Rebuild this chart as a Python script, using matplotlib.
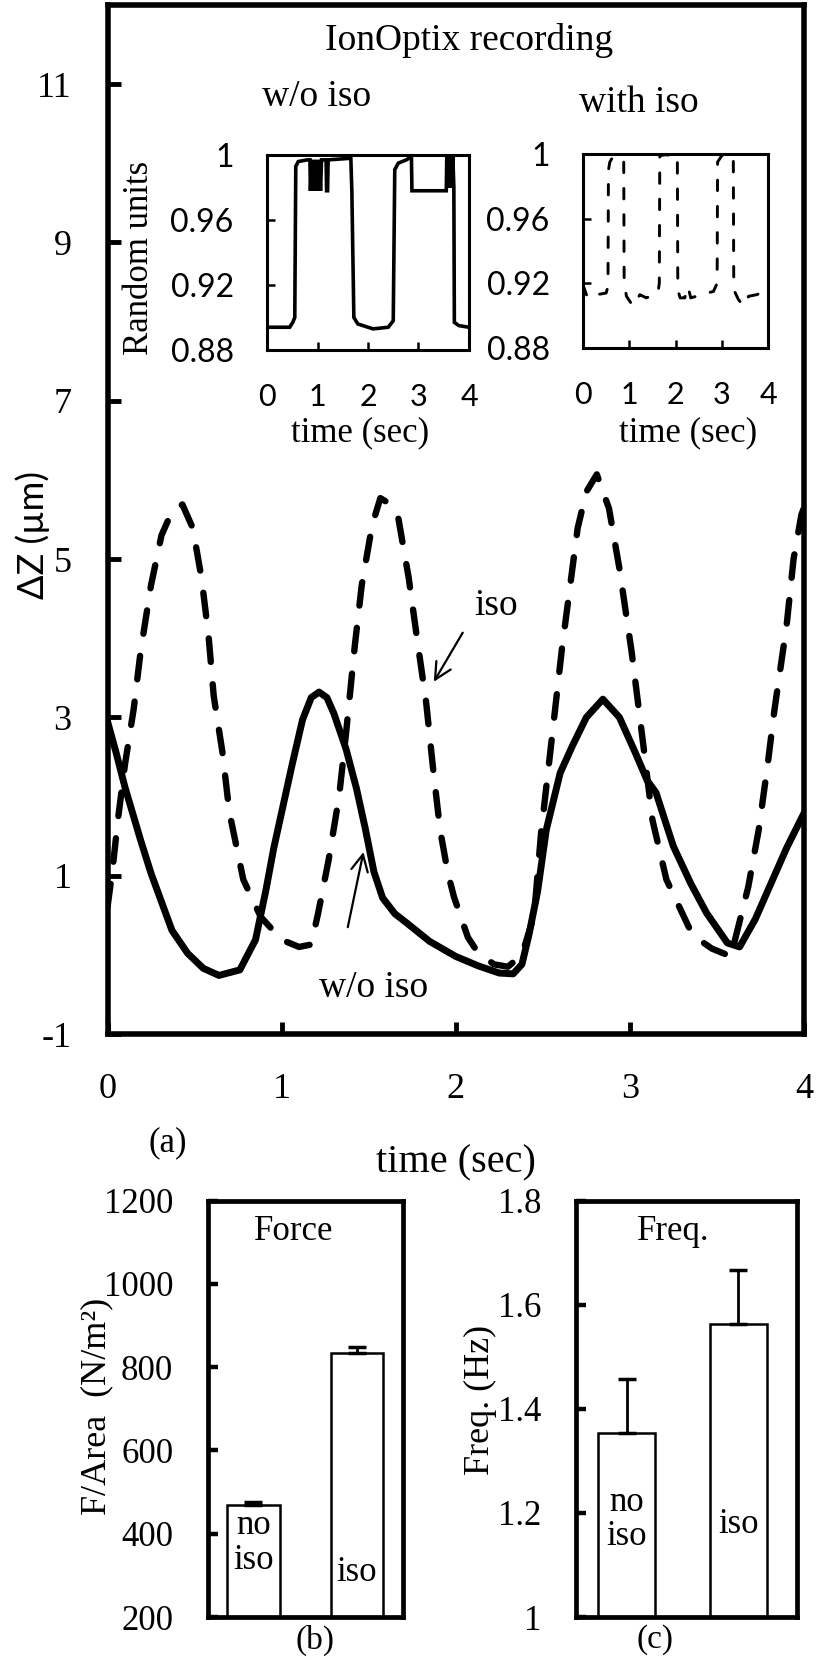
import matplotlib
matplotlib.use('Agg')
import matplotlib.pyplot as plt
import numpy as np

plt.rcParams['font.family'] = ['Liberation Serif', 'DejaVu Serif']
plt.rcParams['axes.unicode_minus'] = False
SANS = ['Lato', 'DejaVu Sans']

W, H = 816, 1660

# ---- (a) cell edge displacement, w/o iso (solid) ----
t_noiso = [0.00, 0.05, 0.10, 0.19, 0.25, 0.37, 0.46, 0.55, 0.64, 0.76, 0.85, 0.91,
           0.955, 1.00, 1.06, 1.12, 1.17, 1.215, 1.26, 1.30, 1.37, 1.43, 1.48, 1.53,
           1.58, 1.65, 1.72, 1.85, 2.00, 2.13, 2.25, 2.33, 2.38, 2.42, 2.47, 2.52, 2.60,
           2.67, 2.75, 2.845, 2.94, 3.03, 3.10, 3.15, 3.25, 3.35, 3.44, 3.56, 3.63,
           3.72, 3.82, 3.90, 4.00]
z_noiso = [2.95, 2.55, 2.12, 1.45, 1.03, 0.31, 0.02, -0.17, -0.26, -0.19, 0.19, 0.82,
           1.35, 1.80, 2.40, 2.97, 3.25, 3.32, 3.25, 3.05, 2.60, 2.10, 1.60, 1.05,
           0.72, 0.52, 0.40, 0.17, -0.02, -0.14, -0.23, -0.24, -0.12, 0.25, 0.80, 1.58, 2.30,
           2.64, 3.00, 3.23, 3.00, 2.56, 2.20, 2.05, 1.37, 0.90, 0.53, 0.15, 0.10,
           0.45, 0.95, 1.35, 1.79]

# ---- (a) with iso (dashed) ----
t_iso = [0.00, 0.03, 0.06, 0.10, 0.15, 0.19, 0.25, 0.31, 0.37, 0.43, 0.49, 0.54,
         0.58, 0.61, 0.66, 0.70, 0.78, 0.88, 1.00, 1.10, 1.17, 1.21, 1.27, 1.33,
         1.37, 1.42, 1.46, 1.52, 1.567, 1.62, 1.67, 1.73, 1.78, 1.83, 1.87, 1.91,
         1.955, 1.99, 2.07, 2.13, 2.22, 2.30, 2.38, 2.45, 2.49, 2.55, 2.61, 2.70,
         2.75, 2.81, 2.88, 2.94, 3.01, 3.08, 3.13, 3.21, 3.36, 3.47, 3.58, 3.68,
         3.74, 3.79, 3.83, 3.87, 3.90, 3.94, 3.985, 4.00]
z_iso = [0.60, 1.10, 1.71, 2.40, 3.10, 3.83, 4.67, 5.30, 5.60, 5.69, 5.39, 4.76,
         4.04, 3.27, 2.56, 1.80, 0.95, 0.48, 0.19, 0.10, 0.13, 0.53, 1.20, 2.00,
         2.80, 3.90, 4.67, 5.43, 5.77, 5.70, 5.52, 4.76, 3.96, 3.19, 2.35, 1.58,
         1.03, 0.73, 0.22, 0.02, -0.12, -0.15, 0.00, 0.50, 1.54, 2.70, 3.87, 5.39,
         5.85, 6.07, 5.64, 4.88, 3.83, 2.60, 1.70, 0.95, 0.25, 0.08, -0.02, 0.86,
         1.58, 2.38, 3.09, 3.70, 4.16, 5.00, 5.56, 5.65]

# ---- insets: IonOptix recording ----
ion_t_noiso = [0.00, 0.45, 0.51, 0.55, 0.57, 0.62, 0.80, 0.85, 0.86, 0.88, 0.90, 0.92,
               0.94, 0.96, 0.98, 1.00, 1.02, 1.04, 1.06, 1.08, 1.17, 1.18, 1.20, 1.21,
               1.66, 1.68, 1.72, 1.80, 2.10, 2.40, 2.50, 2.53, 2.60, 2.76, 2.86, 2.87,
               3.55, 3.56, 3.58, 3.60, 3.62, 3.64, 3.66, 3.68, 3.70, 3.71, 3.80, 4.00]
ion_v_noiso = [0.894, 0.894, 0.897, 0.900, 0.993, 0.996, 0.997, 0.997, 0.978, 0.997, 0.978, 0.997,
               0.978, 0.997, 0.978, 0.997, 0.978, 0.997, 0.978, 0.997, 0.997, 0.978, 0.978, 0.997,
               0.998, 0.978, 0.900, 0.896, 0.893, 0.894, 0.898, 0.991, 0.995, 0.997, 0.999, 0.978,
               0.978, 0.999, 0.980, 0.999, 0.980, 0.999, 0.980, 0.999, 0.980, 0.897, 0.895, 0.894]
ion_t_iso = [0.00, 0.10, 0.30, 0.50, 0.54, 0.55, 0.58, 0.62, 0.75, 0.88, 0.89, 0.94,
             1.08, 1.23, 1.37, 1.62, 1.65, 1.66, 1.78, 2.04, 2.05, 2.10, 2.20, 2.27,
             2.33, 2.57, 2.82, 2.90, 2.91, 3.00, 3.22, 3.25, 3.26, 3.36, 3.47, 3.58,
             3.76, 4.00]
ion_v_iso = [0.919, 0.911, 0.913, 0.914, 0.918, 0.990, 0.995, 0.997, 0.998, 0.997, 0.920, 0.912,
             0.906, 0.913, 0.911, 0.914, 0.920, 0.999, 0.9995, 0.999, 0.916, 0.911, 0.911, 0.918,
             0.911, 0.913, 0.915, 0.920, 0.995, 0.999, 0.999, 0.997, 0.916, 0.910, 0.906, 0.912,
             0.913, 0.916]

# ---- (b) force and (c) frequency ----
groups = ['no\niso', 'iso']
force = [469, 834]
force_err = [7, 14]
freq = [1.353, 1.563]
freq_err = [0.104, 0.104]

main_xticks = [0, 1, 2, 3, 4]
main_yticks = [-1, 1, 3, 5, 7, 9, 11]
ion_yticks = [0.88, 0.92, 0.96, 1.0]
ion_ylabels = ['0.88', '0.92', '0.96', '1']
force_ticks = [200, 400, 600, 800, 1000, 1200]
freq_ticks = [1.0, 1.2, 1.4, 1.6, 1.8]
freq_labels = ['1', '1.2', '1.4', '1.6', '1.8']


def box(l, t, r, b):
    return [l / W, 1 - b / H, (r - l) / W, (b - t) / H]


def ftext(x, y, s, **kw):
    fig.text(x / W, 1 - y / H, s, ha='center', va='center', **kw)


fig = plt.figure(figsize=(W / 100, H / 100), dpi=100)

# ---------------- main panel (a) ----------------
ax = fig.add_axes(box(107.5, 5, 804, 1034))
ax.plot(t_noiso, z_noiso, color='k', lw=5, solid_capstyle='round', solid_joinstyle='round')
ax.plot(t_iso, z_iso, color='k', lw=4.6, linestyle=(0, (3.7, 3.5)),
        dash_capstyle='round', dash_joinstyle='round')
ax.set_xlim(0, 4)
ax.set_ylim(-1, 12)
ax.set_xticks(main_xticks)
ax.set_yticks(main_yticks)
for s in ax.spines.values():
    s.set_linewidth(4)
ax.tick_params(direction='in', length=9, width=3.5, labelsize=26)
ax.tick_params(axis='y', pad=26)
ax.tick_params(axis='x', pad=28)

ax.text(2.23, 4.41, 'iso', fontsize=27, ha='center', va='center')
ax.annotate('', xy=(1.874, 3.45), xytext=(2.04, 4.07),
            arrowprops=dict(arrowstyle='->', lw=1.6, color='k', mutation_scale=30,
                            shrinkA=0, shrinkB=0))
ax.text(1.53, -0.41, 'w/o iso', fontsize=27, ha='center', va='center')
ax.annotate('', xy=(1.47, 1.30), xytext=(1.38, 0.35),
            arrowprops=dict(arrowstyle='->', lw=1.6, color='k', mutation_scale=30,
                            shrinkA=0, shrinkB=0))

ftext(33, 535, 'ΔZ (µm)', rotation=90, fontsize=26, family=SANS)
ftext(456, 1163, 'time (sec)', fontsize=29)
ftext(168, 1143, '(a)', fontsize=25)

# ---------------- insets ----------------
ftext(469, 40, 'IonOptix recording', fontsize=27)
ftext(317, 97, 'w/o iso', fontsize=27)
ftext(639, 103, 'with iso', fontsize=27)
ftext(140, 258, 'Random units', rotation=90, fontsize=25)

ins1 = fig.add_axes(box(267, 155, 469, 350))
ins1.plot(ion_t_noiso, ion_v_noiso, color='k', lw=2.6, solid_joinstyle='miter')
ins2 = fig.add_axes(box(583, 154, 768, 348))
ins2.plot(ion_t_iso, ion_v_iso, color='k', lw=2.1, linestyle=(0, (3.6, 5.4)),
          dash_capstyle='round')
for a in (ins1, ins2):
    a.set_xlim(0, 4)
    a.set_ylim(0.88, 1.0)
    a.set_xticks(main_xticks, labels=[str(v) for v in main_xticks],
                 fontsize=22, family=SANS)
    a.set_yticks(ion_yticks, labels=ion_ylabels, fontsize=23, family=SANS)
    for s in a.spines.values():
        s.set_linewidth(2.2)
    a.tick_params(direction='in', length=6, width=1.8)
    a.tick_params(axis='y', pad=24)
    a.tick_params(axis='x', pad=24)
ftext(360, 433, 'time (sec)', fontsize=25)
ftext(688, 433, 'time (sec)', fontsize=25)

# ---------------- bar panels (b) and (c) ----------------
xpos = np.arange(1, len(groups) + 1)


def bar_panel(rect, vals, errs, ylim, ticks, labels, xlim, title):
    b = fig.add_axes(rect)
    b.bar(xpos, vals, width=0.51, color='white', edgecolor='k', linewidth=1.8, zorder=2)
    b.errorbar(xpos, vals, yerr=[[0] * len(errs), errs], fmt='none', ecolor='k',
               elinewidth=2, capsize=6.5, capthick=2.5, zorder=3)
    b.set_xlim(*xlim)
    b.set_ylim(*ylim)
    b.set_yticks(ticks, labels=labels)
    b.tick_params(axis='y', direction='in', length=7, width=3.2, labelsize=25, pad=25)
    b.tick_params(axis='x', bottom=False, labelbottom=False)
    for s in b.spines.values():
        s.set_linewidth(3.4)
    b.text(0.44, 0.925, title, transform=b.transAxes, fontsize=25,
           ha='center', va='center')
    return b


axb = bar_panel(box(208, 1200.7, 403, 1617), force, force_err, (200, 1200),
                force_ticks, [str(v) for v in force_ticks], (0.561, 2.444), 'Force')
axb.text(xpos[0], 378, groups[0], fontsize=25, ha='center', va='center', linespacing=1.05)
axb.text(xpos[1], 308, groups[1], fontsize=25, ha='center', va='center')
ftext(97, 1406, 'F/Area  (N/m²)', rotation=90, fontsize=26)
ftext(315, 1640, '(b)', fontsize=24)

axc = bar_panel(box(576, 1200.7, 797, 1617), freq, freq_err, (1.0, 1.8),
                freq_ticks, freq_labels, (0.545, 2.525), 'Freq.')
axc.text(xpos[0], 1.188, groups[0], fontsize=25, ha='center', va='center', linespacing=1.05)
axc.text(xpos[1], 1.177, groups[1], fontsize=25, ha='center', va='center')
ftext(480, 1400, 'Freq. (Hz)', rotation=90, fontsize=26)
ftext(655, 1640, '(c)', fontsize=24)

fig.savefig('out.png', dpi=100)
